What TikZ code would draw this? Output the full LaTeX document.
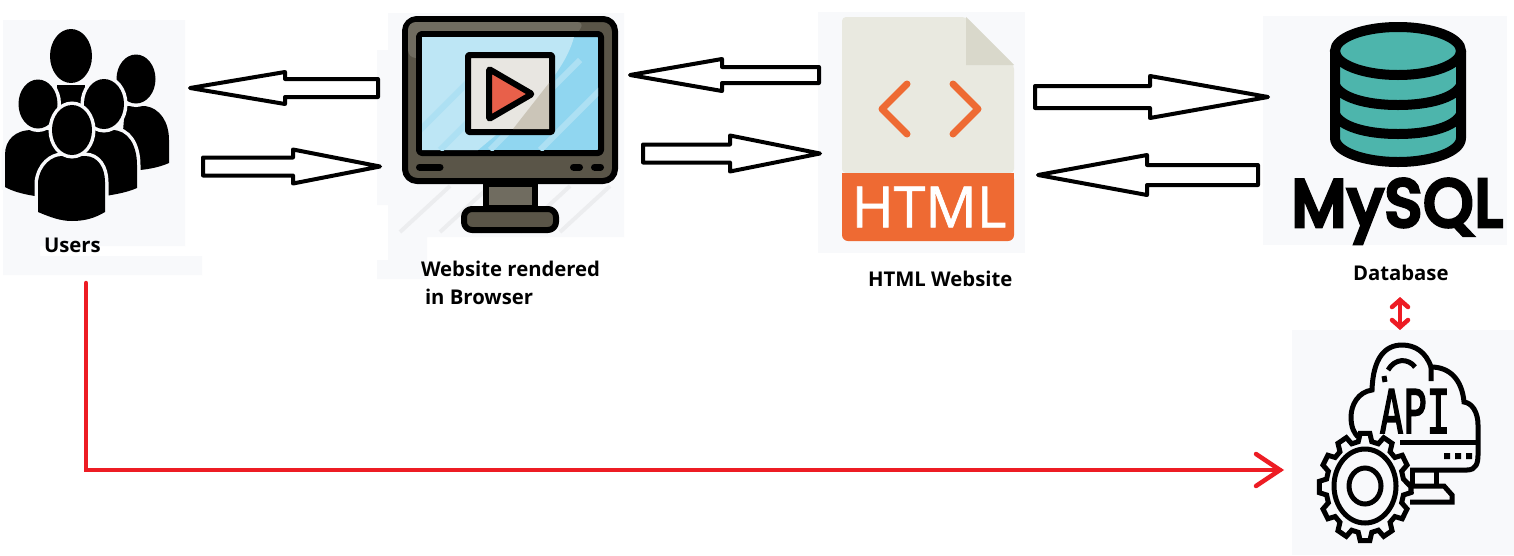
\documentclass[tikz,border=0pt]{standalone}
\usepackage{fontspec}
\setmainfont{Open Sans}
\newfontfamily\htmlfont[FakeBold=1.2]{Open Sans}
\newfontfamily\mysqlfont[LetterSpace=3,FakeBold=7]{Poppins}
\newfontfamily\apifont[FakeBold=3]{DejaVu Sans Mono}
\usetikzlibrary{calc}
\definecolor{panelc}{HTML}{F8F9FB}
\definecolor{redc}{HTML}{ED1C24}
\definecolor{orangec}{HTML}{EE6A33}
\definecolor{playc}{HTML}{E8604A}
\definecolor{docc}{HTML}{E9E9E0}
\definecolor{foldc}{HTML}{D9D8CB}
\definecolor{tealc}{HTML}{4DB5AC}
\definecolor{framec}{HTML}{5A5548}
\definecolor{framel}{HTML}{706C60}
\definecolor{blued}{HTML}{90D6F0}
\definecolor{bluel}{HTML}{BDE6F5}
\definecolor{stripec}{HTML}{ECEDEF}
\definecolor{boxc}{HTML}{E8E6E1}
\definecolor{boxd}{HTML}{CBC5B8}
\tikzset{
  panel/.style={fill=panelc,draw=none,inner sep=0pt,outer sep=0pt},
  person/.style={fill=black,preaction={draw=panelc,line width=7pt}},
  blockarrow/.style={draw=black,fill=white,line width=4pt,line join=round},
  redline/.style={draw=redc,line width=4.5pt,line join=miter,line cap=round},
  label/.style={inner sep=0pt,outer sep=0pt,anchor=base west,font=\fontsize{20.3}{24}\selectfont\bfseries},
  icon/.style={draw=black,line width=6pt,line join=round},
  apiline/.style={draw=black,line width=5pt,line join=miter},
}
% tail, tip, head length (signed, from the tip), half shaft, half head
\newcommand{\blockarrowdraw}[5]{%
  \draw[blockarrow] (#2) -- ($(#2)+(#3,-#5)$) -- ($(#2)+(#3,-#4)$) -- ($(#1)+(0,-#4)$)
    -- ($(#1)+(0,#4)$) -- ($(#2)+(#3,#4)$) -- ($(#2)+(#3,#5)$) -- cycle;}
\begin{document}
\begin{tikzpicture}[x=1pt,y=-1pt]
\useasboundingbox (0,0) rectangle (1514,555);
\fill[white] (0,0) rectangle (1514,555);
% panels
\path[panel] (3,20) rectangle (185,246) (3,246) rectangle (40,275) (40,256) rectangle (202,275);
\path[panel] (388,13) rectangle (624,237) (377,50) rectangle (388,205) (377,260) rectangle (388,279) (388,237) rectangle (427,279);
\path[panel] (818,12) rectangle (1025,253);
\path[panel] (1263,16) rectangle (1507,245);
\node[panel,minimum width=222pt,minimum height=225pt] (apipanel) at (1403,442.5) {};
% users
\node[inner sep=0,minimum width=170pt,minimum height=195pt] (users) at (87,125) {};
\path[person] (125,106) -- (145,106) .. controls (160,108) and (169,122) .. (169,140) -- (169,163) .. controls (160,167) and (150,169) .. (140,170) -- (120,170) -- cycle;
\path[person] (136,79) ellipse (19.5 and 24.5);
\fill[black] (57,85) rectangle (85,110);
\fill[black] (71,56) ellipse (21 and 27);
\path[person] (5,187) -- (5,155) .. controls (5,140) and (15,130) .. (32,130) -- (60,130) -- (60,196) -- (35,196) .. controls (22,194) and (12,191) .. (5,187) -- cycle;
\path[person] (38,104) ellipse (19.5 and 24.5);
\path[person] (85,130) -- (112,130) .. controls (128,130) and (137,145) .. (137,165) -- (137,188) .. controls (128,192) and (118,194) .. (105,196) -- (85,196) -- cycle;
\path[person] (104,104) ellipse (20 and 25);
\path[person] (38,212) -- (38,182) .. controls (40,165) and (52,156) .. (62,156) -- (85,156) .. controls (98,156) and (105,168) .. (105,182) -- (105,212) .. controls (95,218) and (85,221) .. (72,221) .. controls (60,221) and (50,217) .. (38,212) -- cycle;
\path[person] (72,130) ellipse (20 and 25);
\node[label] (userslabel) at (44,252) {Users};
% browser
\node[inner sep=0,minimum width=216pt,minimum height=217pt] (browser) at (510,125) {};
\foreach \x in {400,440,480,520,560} {\draw[stripec,line width=4pt] (\x,232) -- (\x+50,186);}
\draw[icon,fill=framec,rounded corners=12pt] (405,19) rectangle (615,181);
\fill[framel,rounded corners=8pt] (408,22) -- (585,22) -- (560,58) -- (408,58) -- cycle;
\draw[icon,fill=blued,rounded corners=3pt] (419,34) rectangle (601,153);
\begin{scope}
\clip (422,37) rectangle (598,150);
\fill[bluel] (422,37) -- (574,37) .. controls (568,60) and (550,85) .. (520,115) -- (478,150) -- (422,150) -- cycle;
\foreach \x in {430,470,520,570} {\draw[blued!35!bluel,line width=6pt] (\x-30,150) -- (\x+60,60);}
\end{scope}
\draw[icon,fill=boxc,rounded corners=1pt] (468,55) rectangle (552,132);
\fill[boxd] (549,83) -- (549,129) -- (513,129) -- cycle;
\draw[icon,fill=playc,rounded corners=1pt] (489,69) -- (532,94) -- (489,119) -- cycle;
\draw[black,line width=7pt,line cap=round] (419.5,167) -- (440,167) (573.5,167) -- (579.5,167) (594.5,167) -- (600.5,167);
\draw[icon,fill=framel] (486,184) rectangle (535,208);
\draw[icon,fill=framec,rounded corners=8pt] (464,230) -- (464,209) -- (556,209) -- (556,230) -- cycle;
\node[label] (browserlabel) at (421,276) {Website rendered};
\node[label] (browserlabelb) at (425,304) {in Browser};
% html file
\node[inner sep=0,minimum width=172pt,minimum height=224pt] (html) at (928,129) {};
\fill[docc,rounded corners=4pt] (842,173) -- (842,17) -- (966,17) -- (1014,65) -- (1014,173) -- cycle;
\fill[foldc] (966,17) -- (1014,65) -- (966,65) -- cycle;
\fill[orangec,rounded corners=6pt] (842,173) -- (1014,173) -- (1014,241) -- (842,241) -- cycle;
\fill[orangec] (842,173) rectangle (1014,190);
\draw[orangec,line width=7pt,line cap=round,line join=round] (907,84) -- (882,109) -- (907,134) (953,84) -- (978,109) -- (953,134);
\node[inner sep=0,text=white,font=\htmlfont\fontsize{57}{60}\selectfont] (htmltext) at (929,207) {HTML};
\node[label] (htmllabel) at (868,286) {HTML Website};
% database
\node[inner sep=0,minimum width=136pt,minimum height=144pt] (db) at (1398,95) {};
\draw[black,fill=tealc,line width=10pt,line join=round] (1335,51) -- (1335,138) .. controls (1335,152) and (1365,162) .. (1398,162) .. controls (1431,162) and (1461,152) .. (1461,138) -- (1461,51);
\fill[tealc] (1338,51) rectangle (1458,60);
\draw[black,fill=tealc,line width=10pt] (1398,51) ellipse (63 and 24);
\draw[black,line width=10pt] (1335,85) .. controls (1340,97) and (1365,105) .. (1398,105) .. controls (1431,105) and (1456,97) .. (1461,85);
\draw[black,line width=10pt] (1335,114) .. controls (1340,126) and (1365,134) .. (1398,134) .. controls (1431,134) and (1456,126) .. (1461,114);
\node[inner sep=0,anchor=base,xscale=.95,font=\mysqlfont\fontsize{66}{70}\selectfont] (mysql) at (1397,226) {MySQL};
\node[label] (dblabel) at (1353,280) {Database};
% api
\node[inner sep=0,minimum width=165pt,minimum height=200pt] (api) at (1400,443) {};
\draw[apiline,fill=panelc] (1410,470) -- (1467,470) .. controls (1476,470) and (1478,463) .. (1478,455) -- (1478,425) .. controls (1478,412) and (1472,403) .. (1464,402) .. controls (1462,380) and (1450,367) .. (1431,367) .. controls (1426,352) and (1415,345) .. (1402,345) .. controls (1385,345) and (1373,358) .. (1372,390) .. controls (1358,392) and (1351,405) .. (1351,417) .. controls (1351,427) and (1354,433) .. (1358,437);
\draw[apiline] (1400,442) -- (1478,442);
\draw[apiline] (1388,370) .. controls (1395,358) and (1408,358) .. (1415,367) (1384,376) -- (1385,382) (1431,367) -- (1431,381);
\fill[black] (1444,453) rectangle (1450,459) (1455,453) rectangle (1461,459) (1466,453) rectangle (1472,459);
\draw[apiline] (1412,470) -- (1412,486) (1436,470) -- (1436,486);
\draw[apiline] (1410,486) -- (1444,486) -- (1452,495) -- (1452,502) -- (1410,502);
\node[inner sep=0,anchor=base,xscale=.65,font=\apifont\fontsize{60}{64}\selectfont] (apitext) at (1415,433) {API};
\draw[apiline,fill=panelc] (1364,487) ++(0:47 and 50)
  \foreach \a in {0,30,...,330} { -- ($(1365,487)+({\a-6}:46 and 54)$) -- ($(1365,487)+({\a+6}:46 and 54)$) -- ($(1365,487)+({\a+10}:39 and 46)$) -- ($(1365,487)+({\a+20}:39 and 46)$) } -- cycle;
\draw[apiline] (1365,486) ellipse (31 and 37);
\draw[apiline] (1365,486) ellipse (16 and 18);
% block connectors
\coordinate (a1t) at (378,88); \coordinate (a1h) at (190,88);
\coordinate (a2t) at (203,166.5); \coordinate (a2h) at (380,166.5);
\coordinate (a3t) at (819,75); \coordinate (a3h) at (630,75);
\coordinate (a4t) at (643,153.5); \coordinate (a4h) at (820,153.5);
\coordinate (a5t) at (1035,97); \coordinate (a5h) at (1268,97);
\coordinate (a6t) at (1258,175); \coordinate (a6h) at (1038,175);
\blockarrowdraw{a1t}{a1h}{95}{9}{16}
\blockarrowdraw{a2t}{a2h}{-87}{9}{17}
\blockarrowdraw{a3t}{a3h}{92}{8}{16}
\blockarrowdraw{a4t}{a4h}{-90}{9}{18}
\blockarrowdraw{a5t}{a5h}{-118}{11}{21}
\blockarrowdraw{a6t}{a6h}{109}{10}{20}
% red connectors
\coordinate (usersout) at (86,283);
\coordinate (apiin) at (1280,470);
\coordinate (dbout) at (1400,300);
\coordinate (apitop) at (1400,327);
\draw[redline] (usersout) |- (apiin);
\draw[redline] (1256,454) -- (apiin) -- (1256,486);
\draw[redline] (dbout) -- (apitop);
\draw[redline] (1392,307) -- (dbout) -- (1408,307) (1392,320) -- (apitop) -- (1408,320);
\end{tikzpicture}
\end{document}
